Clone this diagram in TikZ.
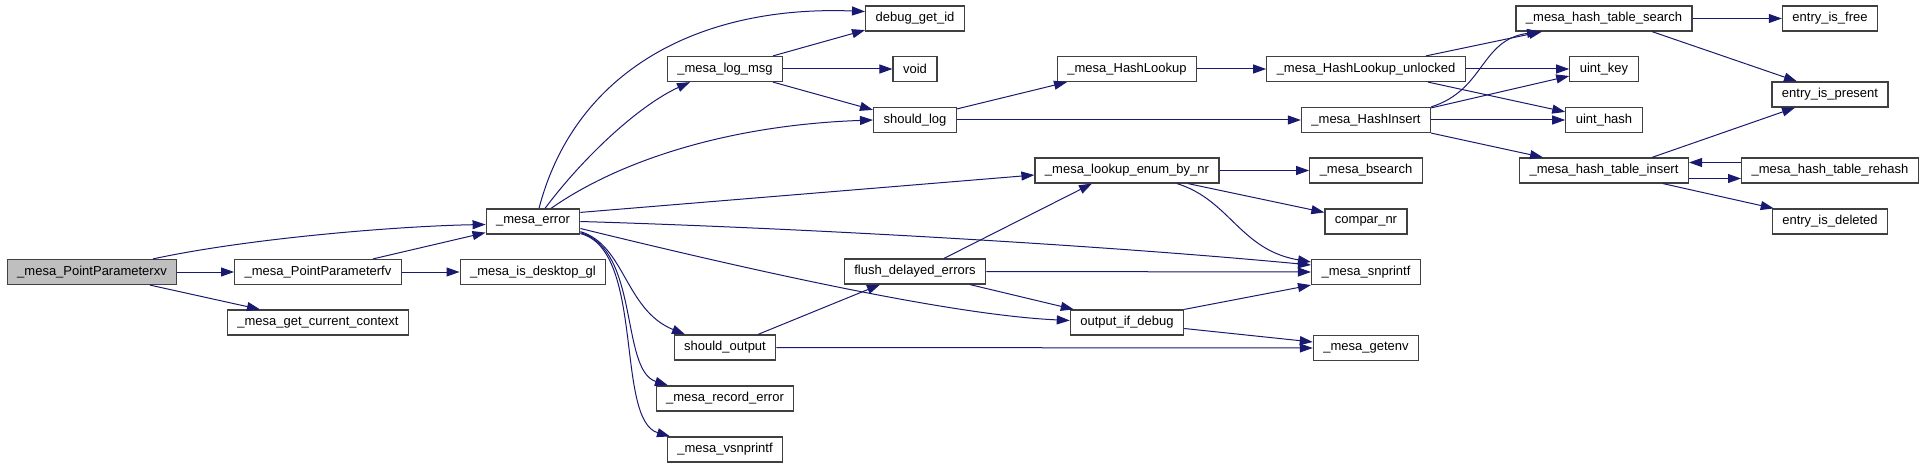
\documentclass[tikz,border=0pt]{standalone}
\usepackage{fontspec}
\setmainfont{Liberation Sans}
\usepackage{xcolor}
\usepackage{tikz}
\usetikzlibrary{arrows.meta,positioning,calc}
\definecolor{callblue}{RGB}{25,25,112}
\definecolor{boxgray}{RGB}{64,64,64}
\definecolor{rootgray}{RGB}{191,191,191}
\newcommand{\fn}[1]{\detokenize{#1}}

\begin{document}
\begin{tikzpicture}[x=1pt,y=-1pt,
    fnbox/.style={draw=boxgray,line width=1.2pt,fill=white,inner xsep=10pt,inner ysep=0pt,
                  minimum height=25pt,font=\fontsize{13pt}{15pt}\selectfont},
    call/.style={draw=callblue,line width=1pt,-{Triangle[length=13pt,width=9pt]}}]
    \useasboundingbox (0,0) rectangle (1925,468);

    % entry point and its direct callees
    \node[fnbox,fill=rootgray] (ptxv)  at (92,272)   {\_mesa\_PointParameterxv};
    \node[fnbox] (ptfv)    at (318,272)   {\_mesa\_PointParameterfv};
    \node[fnbox] (getctx)  at (318,322.5) {\_mesa\_get\_current\_context};
    \node[fnbox] (deskgl)  at (533,272)   {\_mesa\_is\_desktop\_gl};
    \node[fnbox] (err)     at (533,221.5) {\_mesa\_error};

    % column of _mesa_error callees
    \node[fnbox] (logmsg)  at (725,69)    {\_mesa\_log\_msg};
    \node[fnbox] (shout)   at (725,347.5) {should\_output};
    \node[fnbox] (recerr)  at (725,398.5) {\_mesa\_record\_error};
    \node[fnbox] (vsnpr)   at (725,449.5) {\_mesa\_vsnprintf};
    \node[fnbox] (dbgid)   at (915,18.5)  {debug\_get\_id};
    \node[fnbox] (void)    at (915,69)    {void};
    \node[fnbox] (shlog)   at (915,120)   {should\_log};
    \node[fnbox] (flush)   at (915,271.5) {flush\_delayed\_errors};
    \node[fnbox] (hlook)   at (1127,69)   {\_mesa\_HashLookup};
    \node[fnbox] (lookenum) at (1127,170.5) {\_mesa\_lookup\_enum\_by\_nr};
    \node[fnbox] (outdbg)  at (1127,322.5) {output\_if\_debug};

    % hash table and helpers
    \node[fnbox] (hlookun) at (1366,69)    {\_mesa\_HashLookup\_unlocked};
    \node[fnbox] (hins)    at (1366,120)   {\_mesa\_HashInsert};
    \node[fnbox] (bsearch) at (1366,170.5) {\_mesa\_bsearch};
    \node[fnbox] (compar)  at (1366,221.5) {compar\_nr};
    \node[fnbox] (snpr)    at (1366,272)   {\_mesa\_snprintf};
    \node[fnbox] (getenv)  at (1366,348)   {\_mesa\_getenv};
    \node[fnbox] (tsearch) at (1604,18.5)  {\_mesa\_hash\_table\_search};
    \node[fnbox] (ukey)    at (1604,69)    {uint\_key};
    \node[fnbox] (uhash)   at (1604,120)   {uint\_hash};
    \node[fnbox] (tins)    at (1604,170.5) {\_mesa\_hash\_table\_insert};
    \node[fnbox] (efree)   at (1830,18.5)  {entry\_is\_free};
    \node[fnbox] (epres)   at (1830,94.5)  {entry\_is\_present};
    \node[fnbox] (trehash) at (1830,170.5) {\_mesa\_hash\_table\_rehash};
    \node[fnbox] (edel)    at (1830,221.5) {entry\_is\_deleted};

    % calls from the entry point
    \draw[call] ([xshift=61pt]ptxv.north) .. controls (250,238) and (400,226) .. ([yshift=-3pt]err.west);
    \draw[call] (ptxv.east) -- (ptfv.west);
    \draw[call] ([xshift=58pt]ptxv.south) -- ([xshift=-58pt]getctx.north);
    \draw[call] ([xshift=55pt]ptfv.north) -- ([yshift=2pt]err.south west);
    \draw[call] (ptfv.east) -- (deskgl.west);

    % calls from _mesa_error
    \draw[call] ([xshift=6pt]err.north) .. controls (575,70) and (700,5) .. ([yshift=7pt]dbgid.west);
    \draw[call] ([xshift=12pt]err.north) .. controls (585,155) and (640,105) .. ([xshift=-35pt]logmsg.south);
    \draw[call] ([xshift=18pt]err.north) .. controls (620,160) and (730,125) .. (shlog.west);
    \draw[call] ([yshift=-4pt]err.north east) -- ([yshift=-4.5pt]lookenum.west);
    \draw[call] (err.east) .. controls (800,228) and (1100,245) .. ([yshift=7pt]snpr.west);
    \draw[call] ([yshift=-7pt]err.east) .. controls (750,270) and (950,315) .. ([yshift=2pt]outdbg.west);
    \draw[call] ([yshift=3pt]err.south east) .. controls (625,245) and (625,310) .. ([xshift=-40pt]shout.north);
    \draw[call] ([yshift=2pt]err.south east) .. controls (640,250) and (620,370) .. ([xshift=-57pt]recerr.north);
    \draw[call] ([yshift=1pt]err.south east) .. controls (645,250) and (615,420) .. ([xshift=-55pt]vsnpr.north);

    % logging
    \draw[call] ([xshift=48pt]logmsg.north) -- ([yshift=1.5pt]dbgid.south west);
    \draw[call] (logmsg.east) -- (void.west);
    \draw[call] ([xshift=48pt]logmsg.south) -- ([yshift=-3pt]shlog.north west);
    \draw[call] ([yshift=-2pt]shlog.north east) -- ([xshift=-60pt]hlook.south);
    \draw[call] (shlog.east) -- (hins.west);
    \draw[call] (hlook.east) -- (hlookun.west);

    % hash lookups and inserts
    \draw[call] ([xshift=60pt]hlookun.north) -- ([xshift=-62pt]tsearch.south);
    \draw[call] (hlookun.east) -- (ukey.west);
    \draw[call] ([xshift=62pt]hlookun.south) -- ([yshift=-5pt]uhash.north west);
    \draw[call] (hins.north east) .. controls (1485,90) and (1480,40) .. ([xshift=-64pt]tsearch.south);
    \draw[call] ([yshift=-1pt]hins.north east) -- ([yshift=-7pt]ukey.west);
    \draw[call] (hins.east) -- (uhash.west);
    \draw[call] (hins.south east) -- ([xshift=-61pt]tins.north);
    \draw[call] (tsearch.east) -- (efree.west);
    \draw[call] ([xshift=48pt]tsearch.south) -- ([xshift=-33pt]epres.north);
    \draw[call] ([xshift=48pt]tins.north) -- ([xshift=-35pt]epres.south);
    \draw[call] ([yshift=-8pt]tins.east) -- ([yshift=-8pt]trehash.west);
    \draw[call] ([yshift=8pt]trehash.west) -- ([yshift=8pt]tins.east);
    \draw[call] ([xshift=59pt]tins.south) -- ([xshift=2pt]edel.north west);

    % enum lookup and output
    \draw[call] (lookenum.east) -- (bsearch.west);
    \draw[call] ([xshift=61pt]lookenum.south) -- ([yshift=-4pt]compar.north west);
    \draw[call] ([xshift=50pt]lookenum.south) .. controls (1230,200) and (1240,250) .. ([yshift=10pt]snpr.west);
    \draw[call] ([xshift=29pt]flush.north) -- ([xshift=-35pt]lookenum.south);
    \draw[call] (flush.east) -- (snpr.west);
    \draw[call] ([xshift=55pt]flush.south) -- ([xshift=4pt]outdbg.north west);
    \draw[call] (outdbg.north east) -- (snpr.south west);
    \draw[call] ([yshift=-6pt]outdbg.east) -- ([yshift=6pt]getenv.west);
    \draw[call] ([xshift=33pt]shout.north) -- ([xshift=-35pt]flush.south);
    \draw[call] (shout.east) -- (getenv.west);
  \end{tikzpicture}
\end{document}
